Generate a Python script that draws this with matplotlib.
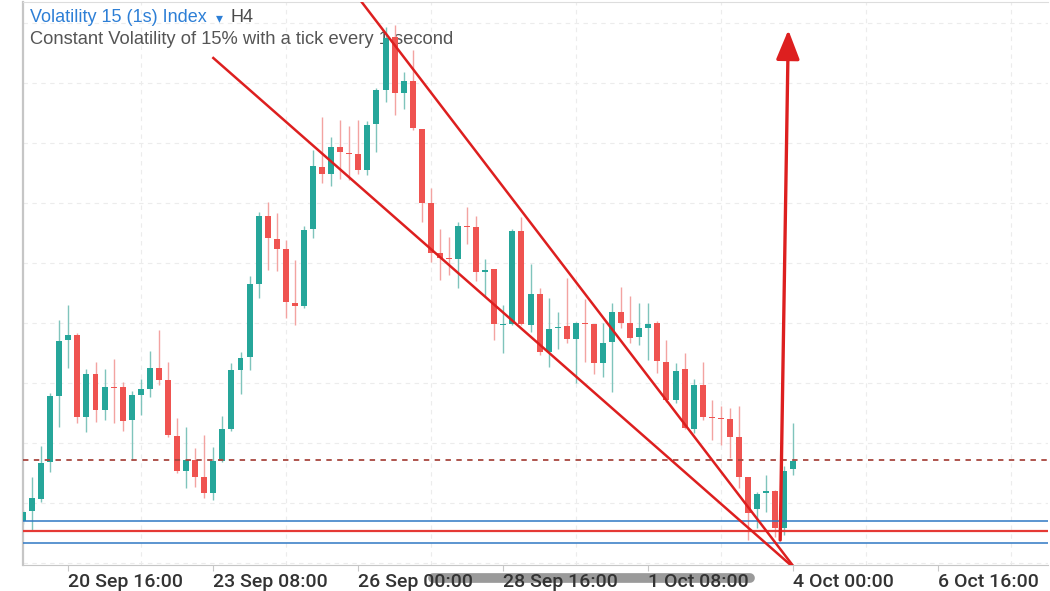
"""Volatility 15 (1s) Index, H4 candles with hand-drawn trend lines."""

import matplotlib.pyplot as plt
import numpy as np
import pandas as pd
from matplotlib.lines import Line2D

# 4h candles, first one opens 19 Sep 20:00
start = pd.Timestamp("2023-09-19 20:00")
step = pd.Timedelta(hours=4)

opens = [79, 89, 101, 138, 204, 260, 265, 183, 226, 190,
         213, 213, 180, 205, 211, 232, 220, 164, 129, 140,
         123, 107, 139, 171, 230, 243, 316, 384, 361, 351,
         297, 294, 371, 433, 426, 453, 447, 446, 430, 476,
         510, 563, 507, 519, 471, 397, 347, 342, 341, 374,
         373, 328, 331, 275, 276, 369, 275, 306, 248, 272,
         274, 261, 277, 276, 237, 258, 288, 277, 263, 272,
         277, 238, 200, 231, 171, 215, 183, 182, 181, 163,
         123, 91, 107, 109, 72, 131]
highs = [90, 123, 154, 207, 280, 295, 267, 231, 238, 231,
         241, 218, 209, 221, 249, 270, 238, 182, 173, 152,
         165, 153, 184, 237, 248, 324, 388, 398, 387, 360,
         340, 374, 450, 483, 463, 480, 474, 480, 479, 512,
         573, 575, 528, 550, 471, 412, 371, 363, 378, 393,
         384, 341, 331, 295, 371, 383, 336, 312, 302, 288,
         322, 278, 301, 276, 277, 297, 313, 304, 297, 297,
         279, 260, 237, 247, 221, 238, 200, 194, 192, 194,
         123, 108, 125, 110, 134, 177]
lows = [76, 69, 98, 128, 173, 232, 177, 168, 178, 180,
        177, 169, 140, 185, 203, 215, 163, 127, 112, 113,
        102, 100, 138, 169, 206, 230, 302, 330, 329, 282,
        275, 292, 362, 417, 414, 421, 420, 426, 425, 448,
        498, 485, 491, 470, 378, 338, 320, 325, 312, 356,
        319, 303, 260, 247, 275, 275, 268, 245, 233, 251,
        257, 217, 238, 226, 223, 208, 272, 257, 255, 240,
        227, 198, 197, 171, 167, 180, 160, 155, 142, 112,
        60, 72, 88, 63, 65, 125]
closes = [88, 102, 137, 204, 259, 265, 183, 226, 190, 213,
          212, 179, 205, 211, 232, 220, 165, 129, 140, 123,
          107, 139, 171, 230, 242, 316, 384, 362, 351, 298,
          294, 370, 434, 426, 453, 448, 446, 430, 475, 510,
          562, 507, 519, 472, 397, 347, 342, 341, 374, 373,
          328, 330, 276, 276, 369, 276, 306, 248, 271, 273,
          261, 277, 276, 237, 257, 288, 277, 262, 272, 276,
          239, 200, 229, 172, 215, 183, 182, 181, 163, 123,
          87, 106, 109, 72, 129, 139]

tick_labels = ["20 Sep 16:00", "23 Sep 08:00", "26 Sep 00:00", "28 Sep 16:00",
               "1 Oct 08:00", "4 Oct 00:00", "6 Oct 16:00"]
tick_times = pd.to_datetime(["2023-09-20 16:00", "2023-09-23 08:00",
                             "2023-09-26 00:00", "2023-09-28 16:00",
                             "2023-10-01 08:00", "2023-10-04 00:00",
                             "2023-10-06 16:00"])

last_price = 140
blue_levels = [79, 57]
red_level = 69

# drawn objects, x in candle units, y in price
upper_line_x = [37.2, 84.9]
upper_line_y = [600, 35]
lower_line_x = [21.0, 84.7]
lower_line_y = [542, 35]
arrow_base = (83.55, 60)
arrow_tip = (84.45, 570)

up_col = "#26a69a"
down_col = "#ef5350"
up_wick = "#7fc4bc"
down_wick = "#f3a3a1"
draw_red = "#dd1f1f"


def main():
    fig = plt.figure(figsize=(10.5, 5.91), dpi=100)
    ax = fig.add_axes([23 / 1050, 26 / 591, 1025 / 1050, 563 / 591])

    o = np.array(opens, dtype=float)
    h = np.array(highs, dtype=float)
    lo = np.array(lows, dtype=float)
    c = np.array(closes, dtype=float)
    x = np.arange(len(o))
    up = c >= o

    ax.vlines(x[up], lo[up], h[up], color=up_wick, lw=1, zorder=2)
    ax.vlines(x[~up], lo[~up], h[~up], color=down_wick, lw=1, zorder=2)
    body_h = np.maximum(np.abs(c - o), 1.3)
    ax.bar(x[up], body_h[up], bottom=np.minimum(o, c)[up], width=0.66,
           color=up_col, zorder=3)
    ax.bar(x[~up], body_h[~up], bottom=np.minimum(o, c)[~up], width=0.66,
           color=down_col, zorder=3)

    # price levels
    ax.axhline(last_price, color="#a8463f", lw=1.3, ls=(0, (3, 3)), zorder=4)
    for lvl in blue_levels:
        ax.axhline(lvl, color="#2f78c4", lw=1.1, zorder=4)
    ax.axhline(red_level, color="#e53935", lw=1.6, zorder=4)

    # trend lines + arrow
    ax.plot(upper_line_x, upper_line_y, color=draw_red, lw=1.8, zorder=5)
    ax.plot(lower_line_x, lower_line_y, color=draw_red, lw=1.8, zorder=5)
    ax.annotate("", xy=arrow_tip, xytext=arrow_base,
                arrowprops=dict(arrowstyle="-|>,head_length=0.9,head_width=0.36",
                                color=draw_red, lw=2.4, mutation_scale=20,
                                shrinkA=0, shrinkB=0),
                zorder=6)

    tick_pos = (tick_times - start) / step
    ax.set_xticks(tick_pos)
    ax.set_xticklabels(tick_labels)
    ax.set_xticks(np.arange(tick_pos[0] - 8, 114, 8), minor=True)
    for lbl in ax.get_xticklabels():
        lbl.set_horizontalalignment("left")
        lbl.set_fontfamily("Roboto")
        lbl.set_fontweight("medium")
    ax.tick_params(axis="x", which="major", length=4, color="#c8c8c8",
                   labelsize=14, labelcolor="#333333", pad=1.5)
    ax.tick_params(axis="x", which="minor", length=0)

    ax.set_yticks(np.arange(37, 600, 60))
    ax.tick_params(axis="y", length=0, labelleft=False)
    ax.grid(which="minor", axis="x", color="#ececec", lw=0.8, ls=(0, (4, 4)))
    ax.grid(which="major", axis="y", color="#ececec", lw=0.8, ls=(0, (4, 4)))
    ax.set_axisbelow(True)

    # limits last, set_xticks would widen them otherwise
    ax.set_xlim(0, 113.1)
    ax.set_ylim(35, 598)

    ax.spines["right"].set_visible(False)
    ax.spines["left"].set_color("#c6c6c6")
    ax.spines["left"].set_linewidth(1.6)
    ax.spines["bottom"].set_color("#c6c6c6")
    ax.spines["top"].set_color("#dddddd")

    # header texts (sit under the candles)
    tr = fig.transFigure
    ax.text(30 / 1050, 1 - 17 / 591, "Volatility 15 (1s) Index", transform=tr,
            fontsize=13, color="#2d7fd6", family="Liberation Sans",
            va="center", ha="left", zorder=1)
    ax.text(216 / 1050, 1 - 18 / 591, "\u25be", transform=tr, fontsize=10,
            color="#2d7fd6", family="DejaVu Sans", va="center", ha="left",
            zorder=1)
    ax.text(231 / 1050, 1 - 17 / 591, "H4", transform=tr, fontsize=13,
            color="#4a4a4a", family="Liberation Sans", va="center", ha="left",
            zorder=1)
    ax.text(30 / 1050, 1 - 40 / 591,
            "Constant Volatility of 15% with a tick every 1 second",
            transform=tr, fontsize=13.2, color="#555555",
            family="Liberation Sans", va="center", ha="left", zorder=1)

    # scroll bar under the time axis
    fig.add_artist(Line2D([433 / 1050, 750 / 1050], [1 - 578 / 591] * 2,
                          transform=tr, color="#9a9a9a", lw=7,
                          solid_capstyle="round", zorder=-1))

    fig.savefig("out.png", dpi=100)


if __name__ == "__main__":
    main()
